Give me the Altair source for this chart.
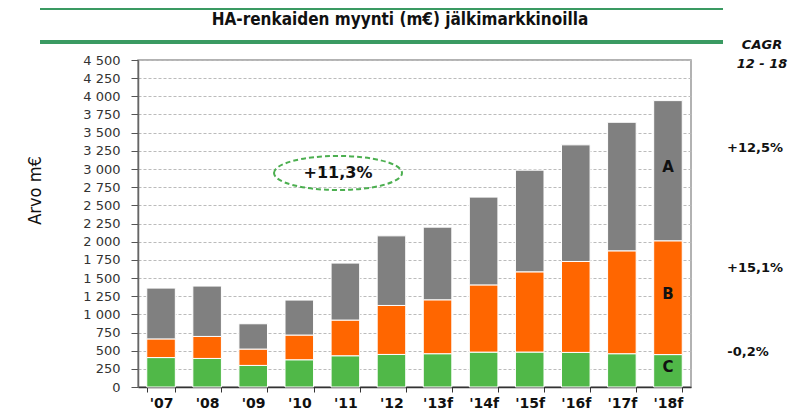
import altair as alt
import pandas as pd

years = ["'07", "'08", "'09", "'10", "'11", "'12", "'13f", "'14f", "'15f", "'16f", "'17f", "'18f"]
seg_c = [405, 393, 297, 375, 430, 448, 458, 480, 481, 476, 458, 446]
seg_b = [257, 303, 225, 340, 491, 674, 742, 925, 1104, 1251, 1416, 1566]
seg_a = [699, 693, 348, 481, 784, 958, 1000, 1208, 1399, 1605, 1769, 1929]
series_names = ["C", "B", "A"]
series_colors = ["#50b848", "#ff6600", "#808080"]
cagr_labels = ["+12,5%", "+15,1%", "-0,2%"]
overall_cagr = "+11,3%"
title_text = "HA-renkaiden myynti (m\u20ac) j\u00e4lkimarkkinoilla"
y_ticks = list(range(0, 4501, 250))

rows = []
for i, y in enumerate(years):
    for k, (name, vals) in enumerate(zip(series_names, [seg_c, seg_b, seg_a])):
        rows.append({"year": y, "series": name, "value": vals[i], "order": k})
df = pd.DataFrame(rows)

W, H = 553, 327
NARROW = "Liberation Sans Narrow, Arial Narrow, DejaVu Sans Condensed, sans-serif"
WIDE = "DejaVu Sans, Verdana, sans-serif"

x_scale = alt.Scale(paddingInner=0.38, paddingOuter=0.19)
y_scale = alt.Scale(domain=[0, 4500], nice=False)
x_axis = alt.Axis(labelAngle=0, tickBand="extent", labelFont=WIDE, labelFontSize=14,
                  labelFontWeight="bold", labelColor="#111", labelPadding=4,
                  tickSize=5, tickColor="#333", domainColor="#333", domainWidth=1.5,
                  grid=False)
y_axis = alt.Axis(values=y_ticks, labelOverlap=False,
                  labelExpr="replace(format(datum.value, ','), ',', ' ')",
                  labelFont=WIDE, labelFontSize=13, labelColor="#333", labelPadding=11,
                  tickSize=7, tickColor="#555", domainColor="#666", domainWidth=1.5,
                  grid=True, gridColor="#bbbbbb", gridDash=[3, 2], gridWidth=1,
                  titleFont=NARROW, titleFontSize=18, titleFontWeight="normal",
                  titleColor="#111", titleX=-103, titleY=130, titleAngle=-90,
                  titleAlign="center", titleBaseline="middle")
y_title = "Arvo m\u20ac"

bars = alt.Chart(df).mark_bar(stroke="white", strokeWidth=1).encode(
    x=alt.X("year:N", sort=years, title=None, scale=x_scale, axis=x_axis),
    y=alt.Y("value:Q", stack="zero", title=y_title, scale=y_scale, axis=y_axis),
    color=alt.Color("series:N", scale=alt.Scale(domain=series_names, range=series_colors), legend=None),
    order=alt.Order("order:Q"),
)

# segment letters in the last bar
last = len(years) - 1
lab_df = pd.DataFrame({
    "year": [years[last]] * 3,
    "series": series_names,
    "mid": [seg_c[last] / 2,
            seg_c[last] + seg_b[last] / 2,
            seg_c[last] + seg_b[last] + seg_a[last] / 2],
})
letters = alt.Chart(lab_df).mark_text(font=WIDE, fontSize=15, fontWeight="bold", color="#111",
                                      dy=-4).encode(
    x=alt.X("year:N", sort=years, title=None, scale=x_scale, axis=x_axis),
    y=alt.Y("mid:Q", title=y_title, scale=y_scale, axis=y_axis),
    text="series:N")

def txt(t, x, y, size=13, weight="bold", style="normal", font=WIDE, align="center"):
    return alt.Chart(pd.DataFrame({"t": [t]})).mark_text(
        font=font, fontSize=size, fontWeight=weight, fontStyle=style, color="#111",
        align=align, baseline="middle").encode(text="t:N", x=alt.value(x), y=alt.value(y))

title = txt(title_text, 262, -40, size=17, font=NARROW)
cagr_head = txt("CAGR", 624, -15, size=13, style="italic")
cagr_years = txt("12 - 18", 624, 4, size=13, style="italic")
cagr_a = txt(cagr_labels[0], 617, 88, size=13)
cagr_b = txt(cagr_labels[1], 617, 208, size=13)
cagr_c = txt(cagr_labels[2], 610, 292, size=13)
overall = txt(overall_cagr, 200, 113, size=16)

line_top = alt.Chart(pd.DataFrame({"a": [0]})).mark_rule(color="#3a9a62", strokeWidth=2).encode(
    x=alt.value(-98), x2=alt.value(585), y=alt.value(-51))
line_mid = alt.Chart(pd.DataFrame({"a": [0]})).mark_rule(color="#3a9a62", strokeWidth=4).encode(
    x=alt.value(-98), x2=alt.value(585), y=alt.value(-18))

ellipse_path = ("M -1 0 C -1 -0.147 -0.552 -0.266 0 -0.266 C 0.552 -0.266 1 -0.147 1 0 "
                "C 1 0.147 0.552 0.266 0 0.266 C -0.552 0.266 -1 0.147 -1 0 Z")
ellipse = alt.Chart(pd.DataFrame({"a": [0]})).mark_point(
    shape=ellipse_path, size=128 * 128, filled=False, stroke="#4caf50", strokeWidth=2,
    strokeDash=[5, 3], opacity=1).encode(x=alt.value(200), y=alt.value(113))

chart = alt.layer(bars, letters, ellipse, overall, title, line_top, line_mid,
                  cagr_head, cagr_years, cagr_a, cagr_b, cagr_c).properties(
    width=W, height=H,
    padding={"left": 130, "top": 52, "right": 110, "bottom": 22},
    autosize=alt.AutoSizeParams(type="none"),
    background="white",
).configure_view(stroke="#999999", strokeWidth=1.5)

chart.save("out.html", embed_options={"renderer": "svg", "actions": False})
